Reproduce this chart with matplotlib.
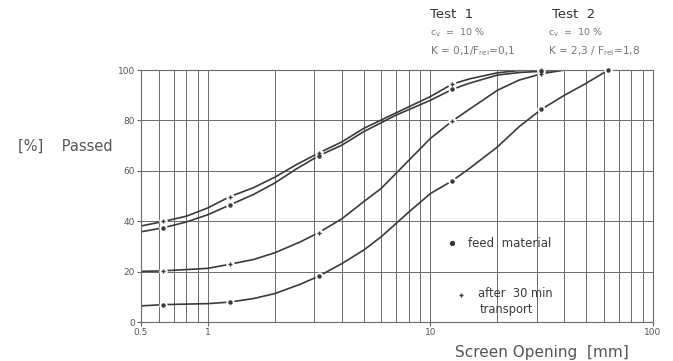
import matplotlib
matplotlib.use("Agg")
import matplotlib.pyplot as plt
from matplotlib.patches import Rectangle
from matplotlib.ticker import NullFormatter, LogLocator

# ---- data ----
# curve traces (screen opening mm, % passed)
a_x = [0.5, 0.63, 0.8, 1.0, 1.25, 1.6, 2.0, 2.5, 3.15, 4.0, 5.0, 7.0, 10.0, 12.5, 15.0, 20.0, 25.0, 31.5]
a_y = [38.1, 39.9, 42.0, 45.3, 49.7, 53.3, 57.5, 62.5, 67.1, 71.5, 76.8, 83.0, 89.5, 94.4, 96.5, 98.9, 99.8, 100.0]
b_x = [0.5, 0.63, 0.8, 1.0, 1.25, 1.6, 2.0, 2.5, 3.15, 4.0, 5.0, 7.0, 10.0, 12.5, 15.0, 20.0, 25.0, 31.5, 40.0]
b_y = [35.8, 37.4, 39.7, 42.6, 46.4, 50.6, 55.2, 60.8, 66.0, 70.2, 75.5, 82.1, 88.0, 92.3, 94.8, 98.0, 99.0, 99.5, 100.0]
c_x = [0.5, 0.63, 1.0, 1.25, 1.6, 2.0, 2.6, 3.15, 4.0, 5.0, 6.0, 7.0, 8.0, 10.0, 12.5, 15.0, 20.0, 25.0, 31.5, 40.0]
c_y = [20.1, 20.3, 21.3, 22.9, 24.8, 27.5, 31.8, 35.5, 41.0, 47.7, 53.0, 59.0, 64.2, 72.9, 79.7, 84.5, 92.0, 96.0, 98.5, 100.0]
d_x = [0.5, 0.63, 1.0, 1.25, 1.6, 2.0, 2.6, 3.15, 4.0, 5.0, 6.0, 7.0, 8.0, 10.0, 12.5, 15.0, 20.0, 25.0, 31.5, 40.0, 50.0, 63.0]
d_y = [6.4, 6.9, 7.3, 7.9, 9.3, 11.3, 15.0, 18.2, 23.2, 28.5, 33.8, 39.1, 43.7, 51.0, 56.0, 61.0, 69.5, 77.5, 84.4, 90.0, 94.7, 100.0]

# measured sieve points (markers)
sieves = [0.63, 1.25, 3.15, 12.5, 31.5]
a_pts = [39.9, 49.7, 67.1, 94.4, 100.0]   # Test 1, after transport
b_pts = [37.4, 46.4, 66.0, 92.3, 99.5]    # Test 1, feed
c_pts = [20.3, 22.9, 35.5, 79.7, 98.5]    # Test 2, after transport
d_sieves = [0.63, 1.25, 3.15, 12.5, 31.5, 63.0]
d_pts = [6.9, 7.9, 18.2, 56.0, 84.4, 100.0]  # Test 2, feed

y_ticks = [0, 20, 40, 60, 80, 100]
x_ticks = [0.5, 1, 10, 100]
x_labels = ["0.5", "1", "10", "100"]

INK = "#3a3a3a"
GRID = "#6a6a6a"
TXT = "#555555"

fig = plt.figure(figsize=(6.73, 3.61), dpi=100)
ax = fig.add_axes([0.2095, 0.108, 0.7608, 0.698])
ax.set_xscale("log")
ax.set_xlim(0.5, 100)
ax.set_ylim(0, 100)

# grid
ax.xaxis.set_minor_locator(LogLocator(base=10, subs=range(2, 10)))
ax.xaxis.set_minor_formatter(NullFormatter())
ax.set_xticks(x_ticks)
ax.set_xticklabels(x_labels)
ax.set_yticks(y_ticks)
ax.grid(True, which="both", axis="x", color=GRID, lw=0.7, zorder=0)
ax.grid(True, which="major", axis="y", color=GRID, lw=0.7, zorder=0)
for s in ax.spines.values():
    s.set_color(GRID)
    s.set_linewidth(0.8)
ax.tick_params(axis="both", which="both", length=3, color=GRID, labelsize=6.5,
               labelcolor=TXT, pad=1.5)
ax.tick_params(axis="x", which="minor", length=0)

# white legend panel hiding grid
ax.add_patch(Rectangle((10.15, 0.4), 49.3 - 10.15, 39.3, facecolor="white",
                       edgecolor="none", zorder=1))

# curves
for xs, ys in [(a_x, a_y), (b_x, b_y), (c_x, c_y), (d_x, d_y)]:
    ax.plot(xs, ys, color=INK, lw=1.2, zorder=2, solid_capstyle="round",
            solid_joinstyle="round")

# markers with white gap around them
def marks(xs, ys, mk, ms):
    ax.plot(xs, ys, ls="none", marker="o", ms=6, mfc="white", mec="none", zorder=3, clip_on=False)
    ax.plot(xs, ys, ls="none", marker=mk, ms=ms, color=INK, mew=1.0, zorder=4, clip_on=False)

marks(sieves, a_pts, "+", 3.5)
marks(sieves, b_pts, "o", 2.2)
marks(sieves, c_pts, "+", 3.5)
marks(d_sieves, d_pts, "o", 2.2)

# legend inside the panel
ax.plot([12.5], [31.3], ls="none", marker="o", ms=2.8, color=INK, zorder=5)
ax.text(14.75, 31.3, "feed  material", fontsize=8.5, color=INK, va="center", ha="left", zorder=5)
ax.plot([13.7], [10.6], ls="none", marker="+", ms=3.5, mew=1.0, color=INK, zorder=5)
ax.text(16.4, 11.2, "after  30 min", fontsize=8.3, color=INK, va="center", ha="left", zorder=5)
ax.text(16.7, 5.0, "transport", fontsize=8.3, color=INK, va="center", ha="left", zorder=5)

# axis titles
fig.text(18 / 673, 1 - 146 / 361, "[%]    Passed", fontsize=10.5, color=TXT, va="center", ha="left")
fig.text(455 / 673, 1 - 352 / 361, "Screen Opening  [mm]", fontsize=11, color=TXT,
         va="center", ha="left")

# headers
fig.text(430 / 673, 1 - 14 / 361, "Test  1", fontsize=9.5, color="#333333", va="center", ha="left")
fig.text(430 / 673, 1 - 33 / 361, r"c$_\mathregular{v}$  =  10 %", fontsize=6.8, color="#777777",
         va="center", ha="left")
fig.text(430 / 673, 1 - 51 / 361, r"K = 0,1/F$_\mathregular{rel}$=0,1", fontsize=7.6, color="#777777",
         va="center", ha="left")
fig.text(552 / 673, 1 - 14 / 361, "Test  2", fontsize=9.5, color="#333333", va="center", ha="left")
fig.text(548 / 673, 1 - 33 / 361, r"c$_\mathregular{v}$  =  10 %", fontsize=6.8, color="#777777",
         va="center", ha="left")
fig.text(548 / 673, 1 - 51 / 361, r"K = 2,3 / F$_\mathregular{rel}$=1,8", fontsize=7.6, color="#777777",
         va="center", ha="left")

fig.savefig("out.png", dpi=100)
